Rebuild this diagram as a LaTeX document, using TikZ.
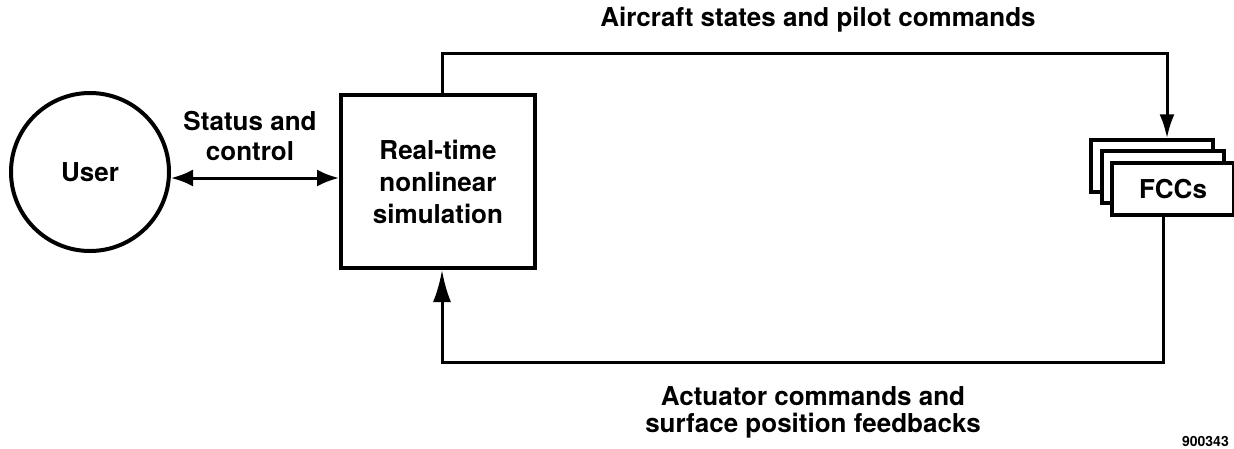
\documentclass[tikz,border=0pt]{standalone}
\usepackage{fontspec}
\setmainfont{TeX Gyre Heros}
\usetikzlibrary{arrows.meta}
\begin{document}
\begin{tikzpicture}[x=1pt,y=-1pt,
  lbl/.style={font=\fontsize{26}{32}\selectfont\bfseries, inner sep=0pt},
  blockbox/.style={draw, line width=4pt, fill=white, inner sep=0pt, align=center, font=\fontsize{26}{32}\selectfont\bfseries},
  fccbox/.style={draw, line width=3.5pt, fill=white, minimum width=122pt, minimum height=52pt, inner sep=0pt, font=\fontsize{26}{32}\selectfont\bfseries},
  conn/.style={line width=3pt},
  tipdown/.style={-{Latex[length=24pt,width=15pt]}},
  tipup/.style={-{Latex[length=32pt,width=18pt]}}
]
\useasboundingbox (0,0) rectangle (1234,448);
\node[blockbox, circle, minimum size=158pt] (user) at (90,172) {User};
\node[blockbox, minimum width=194pt, minimum height=173pt] (sim) at (438,181.5) {Real-time\\nonlinear\\simulation};
\node[fccbox] (fccback) at (1152,166) {};
\node[fccbox] (fccmid) at (1163,177) {};
\node[fccbox] (fcc) at (1173,189) {FCCs};
% labels
\node[lbl, anchor=base] (stat1) at (250,130) {Status and};
\node[lbl, anchor=base] (stat2) at (250,160) {control};
\node[lbl, anchor=base] (top) at (818,26) {Aircraft states and pilot commands};
\node[lbl, anchor=base] (bot1) at (813,405) {Actuator commands and};
\node[lbl, anchor=base] (bot2) at (813,432) {surface position feedbacks};
\node[font=\fontsize{14}{16}\selectfont\bfseries, inner sep=0pt, anchor=base east] (num) at (1229,446) {900343};
% connectors
\coordinate (ay) at (0,178);
\draw[conn, {Latex[length=22pt,width=17pt]}-{Latex[length=22pt,width=17pt]}] (user.east |- ay) -- (sim.west |- ay);
\coordinate (tl) at (442,53);
\coordinate (tr) at (1167,53);
\draw[conn, tipdown] (sim.north -| tl) -- (tl) -- (tr) -- (fccback.north -| tr);
\coordinate (br) at (1163,362);
\coordinate (bl) at (442,362);
\draw[conn, tipup] (fcc.south -| br) -- (br) -- (bl) -- (sim.south -| bl);
\end{tikzpicture}
\end{document}
